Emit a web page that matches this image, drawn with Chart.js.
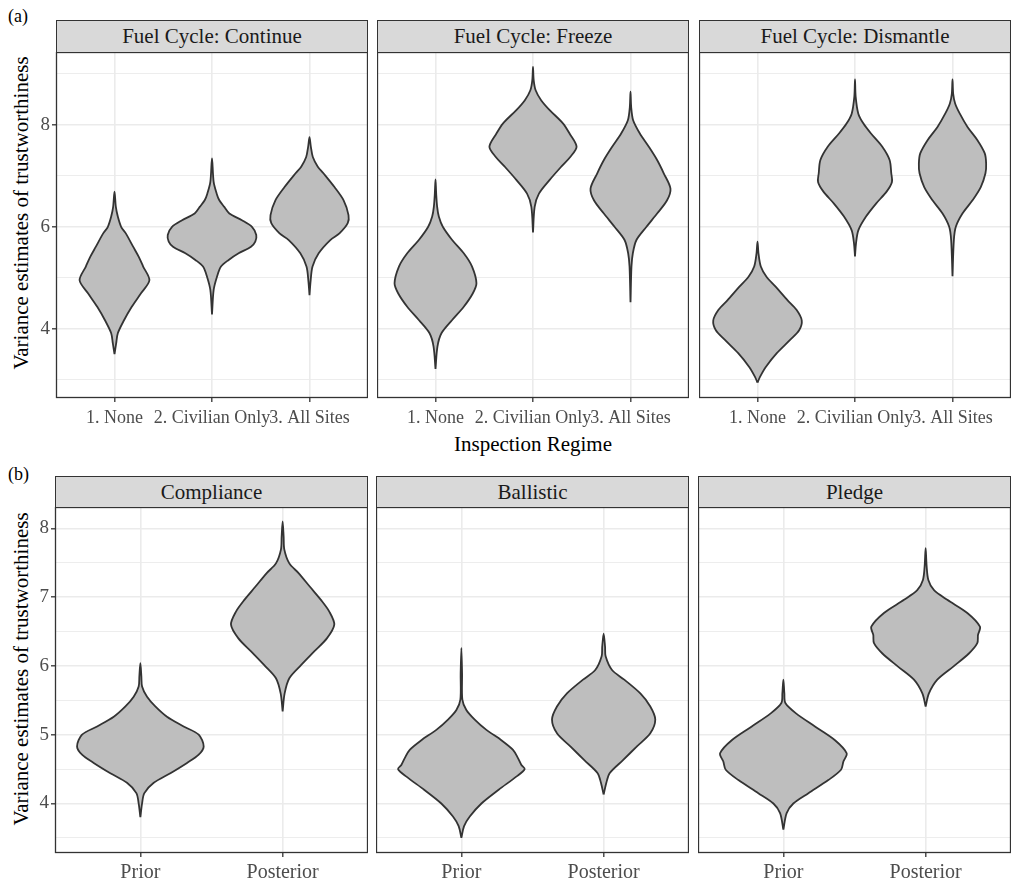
<!DOCTYPE html>
<html lang="en">
<head>
<meta charset="UTF-8">
<title>Variance estimates of trustworthiness</title>
<style>
  body { margin: 0; background: #ffffff; }
  #page { position: relative; width: 1012px; height: 882px; overflow: hidden;
          font-family: "Liberation Serif", "Times New Roman", serif; }
  .strip { position: absolute; box-sizing: border-box; background: #d9d9d9;
           border: 1px solid #333333; color: #1a1a1a; font-size: 21px; text-align: center; white-space: nowrap; }
  .panel { position: absolute; }
  .tag { position: absolute; font-size: 18px; line-height: 20px; color: #000; }
  .ytitle { position: absolute; font-size: 21px; line-height: 24px; white-space: nowrap; color: #000;
            transform: translate(-50%, -50%) rotate(-90deg); }
  .xtitle { position: absolute; font-size: 21px; line-height: 24px; white-space: nowrap; color: #000;
            transform: translateX(-50%); }
</style>
</head>
<body>
<div id="page">
  <div class="tag" style="left:8px; top:6px;">(a)</div>
  <div class="tag" style="left:8px; top:464px;">(b)</div>
  <div class="ytitle" style="left:21px; top:213px;">Variance estimates of trustworthiness</div>
  <div class="ytitle" style="left:21px; top:669px;">Variance estimates of trustworthiness</div>
  <div class="xtitle" style="left:533px; top:432px;">Inspection Regime</div>
</div>

<script src="https://cdn.jsdelivr.net/npm/chart.js"></script>
<script>
// facet and category labels
const topPanels = ['Fuel Cycle: Continue', 'Fuel Cycle: Freeze', 'Fuel Cycle: Dismantle'];
const topCats = ['1. None', '2. Civilian Only', '3. All Sites'];
const bottomPanels = ['Compliance', 'Ballistic', 'Pledge'];
const bottomCats = ['Prior', 'Posterior'];

// y axis ticks (major ones get labels)
const topMajor = [4, 6, 8];
const topMinor = [3, 5, 7, 9];
const bottomMajor = [4, 5, 6, 7, 8];
const bottomMinor = [3.5, 4.5, 5.5, 6.5, 7.5];

// violin outlines: [value, half width in category units]
const contNone = [[3.50,0],[3.71,.017],[3.91,.034],[4.17,.099],[4.43,.177],[4.69,.27],[4.95,.358],[5.22,.294],[5.41,.249],[5.61,.191],[5.87,.116],[6.00,.068],[6.20,.034],[6.39,.014],[6.69,0]];
const contCiv  = [[4.28,0],[4.76,.017],[5.02,.051],[5.22,.092],[5.35,.171],[5.48,.273],[5.61,.40],[5.71,.444],[5.84,.454],[6.00,.41],[6.13,.307],[6.26,.178],[6.39,.126],[6.52,.075],[6.65,.048],[6.88,.017],[7.34,0]];
const contAll  = [[4.66,0],[4.95,.012],[5.22,.031],[5.48,.094],[5.74,.213],[5.87,.307],[6.07,.392],[6.23,.40],[6.52,.35],[6.78,.256],[7.05,.143],[7.18,.085],[7.37,.034],[7.57,.014],[7.76,0]];
const frzNone  = [[3.21,0],[3.65,.02],[3.91,.061],[4.17,.171],[4.43,.29],[4.69,.382],[4.89,.42],[5.22,.375],[5.48,.29],[5.74,.171],[6.00,.075],[6.20,.034],[6.39,.017],[6.65,.007],[6.93,0]];
const frzCiv   = [[5.89,0],[6.39,.017],[6.65,.061],[6.92,.171],[7.18,.29],[7.37,.382],[7.57,.447],[7.83,.375],[8.03,.307],[8.29,.171],[8.48,.085],[8.68,.027],[8.88,.007],[9.14,0]];
const frzAll   = [[4.52,0],[5.22,.01],[5.48,.024],[5.74,.061],[6.00,.164],[6.26,.273],[6.52,.375],[6.75,.41],[7.05,.341],[7.31,.273],[7.57,.188],[7.83,.096],[8.09,.027],[8.35,.007],[8.65,0]];
const disNone  = [[2.94,0],[3.06,.027],[3.25,.085],[3.52,.198],[3.78,.334],[3.97,.427],[4.16,.454],[4.37,.40],[4.56,.307],[4.82,.188],[5.02,.092],[5.22,.034],[5.48,.01],[5.71,0]];
const disCiv   = [[5.42,0],[5.67,.01],[5.93,.034],[6.20,.113],[6.46,.218],[6.69,.324],[6.88,.379],[7.05,.372],[7.31,.355],[7.57,.28],[7.83,.164],[8.03,.085],[8.22,.034],[8.55,.007],[8.89,0]];
const disAll   = [[5.03,0],[5.74,.014],[6.00,.034],[6.26,.102],[6.52,.205],[6.78,.29],[7.05,.338],[7.24,.345],[7.44,.331],[7.70,.256],[7.96,.154],[8.22,.075],[8.42,.027],[8.61,.007],[8.89,0]];

const compPrior = [[3.80,0],[4.00,.012],[4.15,.028],[4.30,.094],[4.44,.211],[4.59,.328],[4.71,.41],[4.83,.445],[5.00,.41],[5.12,.304],[5.26,.187],[5.41,.105],[5.55,.047],[5.70,.012],[5.85,.007],[6.04,0]];
const compPost  = [[5.34,0],[5.60,.014],[5.82,.047],[6.01,.129],[6.21,.222],[6.40,.311],[6.60,.363],[6.79,.328],[6.96,.269],[7.15,.192],[7.35,.112],[7.49,.047],[7.69,.012],[7.88,.007],[8.10,0]];
const balPrior  = [[3.50,0],[3.67,.019],[3.81,.059],[4.00,.141],[4.20,.262],[4.39,.386],[4.50,.445],[4.56,.422],[4.66,.398],[4.78,.363],[4.92,.281],[5.07,.176],[5.22,.094],[5.36,.035],[5.51,.007],[5.89,.005],[6.26,0]];
const balPost   = [[4.13,0],[4.30,.019],[4.44,.042],[4.63,.136],[4.83,.234],[5.02,.328],[5.22,.363],[5.41,.328],[5.60,.258],[5.80,.145],[5.94,.059],[6.14,.014],[6.28,.01],[6.47,0]];
const plgPrior  = [[3.62,0],[3.86,.023],[4.00,.07],[4.15,.176],[4.34,.316],[4.49,.405],[4.61,.422],[4.73,.445],[4.92,.363],[5.12,.222],[5.31,.089],[5.46,.014],[5.60,.007],[5.80,0]];
const plgPost   = [[5.41,0],[5.60,.023],[5.80,.082],[5.99,.194],[6.18,.304],[6.33,.363],[6.45,.368],[6.57,.382],[6.77,.293],[6.96,.152],[7.10,.059],[7.25,.019],[7.45,.007],[7.71,0]];

const topViolins = [[contNone, contCiv, contAll], [frzNone, frzCiv, frzAll], [disNone, disCiv, disAll]];
const bottomViolins = [[compPrior, compPost], [balPrior, balPost], [plgPrior, plgPost]];

const FONT = '"Liberation Serif", "Times New Roman", serif';
const page = document.getElementById('page');

// closed outline: up the right side, down the left side
function violinPoints(profile, center) {
    const right = profile.map(p => ({ x: center + p[1], y: p[0] }));
    const left = profile.slice(0, -1).reverse().map(p => ({ x: center - p[1], y: p[0] }));
    return right.concat(left);
}

// ggplot style panel border on top of everything
const panelBorder = {
    id: 'panelBorder',
    afterDraw(chart) {
        const a = chart.chartArea;
        const ctx = chart.ctx;
        ctx.save();
        ctx.strokeStyle = '#333333';
        ctx.lineWidth = 1.3;
        ctx.strokeRect(a.left + 0.5, a.top + 0.5, a.right - a.left - 1, a.bottom - a.top - 1);
        ctx.restore();
    }
};

function makePanel(opt) {
    const yAxisW = opt.showY ? opt.left : 0;
    const canvasLeft = opt.left - yAxisW;
    const w = opt.width + yAxisW;
    const h = opt.plotH + opt.xAxisH;

    const strip = document.createElement('div');
    strip.className = 'strip';
    strip.style.left = opt.left + 'px';
    strip.style.top = opt.stripTop + 'px';
    strip.style.width = opt.width + 'px';
    strip.style.height = (opt.top - opt.stripTop + 1) + 'px';
    strip.style.lineHeight = (opt.top - opt.stripTop - 1) + 'px';
    strip.textContent = opt.title;
    page.appendChild(strip);

    const holder = document.createElement('div');
    holder.className = 'panel';
    holder.style.left = canvasLeft + 'px';
    holder.style.top = opt.top + 'px';
    holder.style.width = w + 'px';
    holder.style.height = h + 'px';
    const canvas = document.createElement('canvas');
    canvas.width = w;
    canvas.height = h;
    holder.appendChild(canvas);
    page.appendChild(holder);

    const yTicks = opt.major.concat(opt.minor).sort((a, b) => a - b);
    const isMajor = v => opt.major.indexOf(v) >= 0;

    const datasets = opt.violins.map((profile, i) => ({
        data: violinPoints(profile, i + 1),
        borderColor: '#333333',
        borderWidth: 1.8,
        backgroundColor: '#bebebe',
        fill: 'shape',
        tension: 0.3,
        pointRadius: 0,
        borderJoinStyle: 'round'
    }));

    new Chart(canvas, {
        type: 'line',
        data: { datasets: datasets },
        options: {
            responsive: false,
            animation: false,
            devicePixelRatio: 1,
            layout: { padding: 0, autoPadding: false },
            plugins: { legend: { display: false }, tooltip: { enabled: false } },
            scales: {
                x: {
                    type: 'linear',
                    min: 0.4,
                    max: opt.cats.length + 0.6,
                    afterBuildTicks: s => { s.ticks = opt.cats.map((c, i) => ({ value: i + 1 })); },
                    afterFit: s => {
                        s.height = opt.xAxisH;
                        s.paddingLeft = 0;
                        s.paddingRight = 0;
                    },
                    ticks: {
                        callback: v => opt.cats[Math.round(v) - 1],
                        autoSkip: false, maxRotation: 0, minRotation: 0,
                        color: '#4d4d4d', padding: opt.xPad,
                        font: { family: FONT, size: opt.xFont }
                    },
                    grid: { color: '#ebebeb', lineWidth: 1.6, tickColor: '#333333', tickLength: 4, tickWidth: 1.3 },
                    border: { display: false }
                },
                y: {
                    type: 'linear',
                    min: opt.yMin,
                    max: opt.yMax,
                    afterBuildTicks: s => { s.ticks = yTicks.map(v => ({ value: v })); },
                    afterFit: s => {
                        s.width = yAxisW;
                        s.paddingTop = 0;
                        s.paddingBottom = 0;
                    },
                    ticks: {
                        display: opt.showY,
                        callback: v => isMajor(v) ? String(v) : '',
                        color: '#4d4d4d', padding: 2,
                        font: { family: FONT, size: 19 }
                    },
                    grid: {
                        color: '#ebebeb',
                        lineWidth: c => isMajor(c.tick.value) ? 1.6 : 0.9,
                        tickColor: c => isMajor(c.tick.value) ? '#333333' : 'rgba(0,0,0,0)',
                        drawTicks: opt.showY,
                        tickLength: 4,
                        tickWidth: 1.3
                    },
                    border: { display: false }
                }
            }
        },
        plugins: [panelBorder]
    });
}

const topLefts = [56, 377, 699];
const bottomLefts = [55, 376, 698];

topPanels.forEach((title, i) => makePanel({
    title: title, left: topLefts[i], width: 312, stripTop: 20, top: 52, plotH: 346, xAxisH: 40,
    showY: i === 0, cats: topCats, violins: topViolins[i],
    yMin: 2.64, yMax: 9.43, major: topMajor, minor: topMinor, xFont: 18, xPad: 5
}));

bottomPanels.forEach((title, i) => makePanel({
    title: title, left: bottomLefts[i], width: 313, stripTop: 476, top: 507, plotH: 346, xAxisH: 29,
    showY: i === 0, cats: bottomCats, violins: bottomViolins[i],
    yMin: 3.28, yMax: 8.31, major: bottomMajor, minor: bottomMinor, xFont: 20, xPad: 4
}));
</script>
</body>
</html>
